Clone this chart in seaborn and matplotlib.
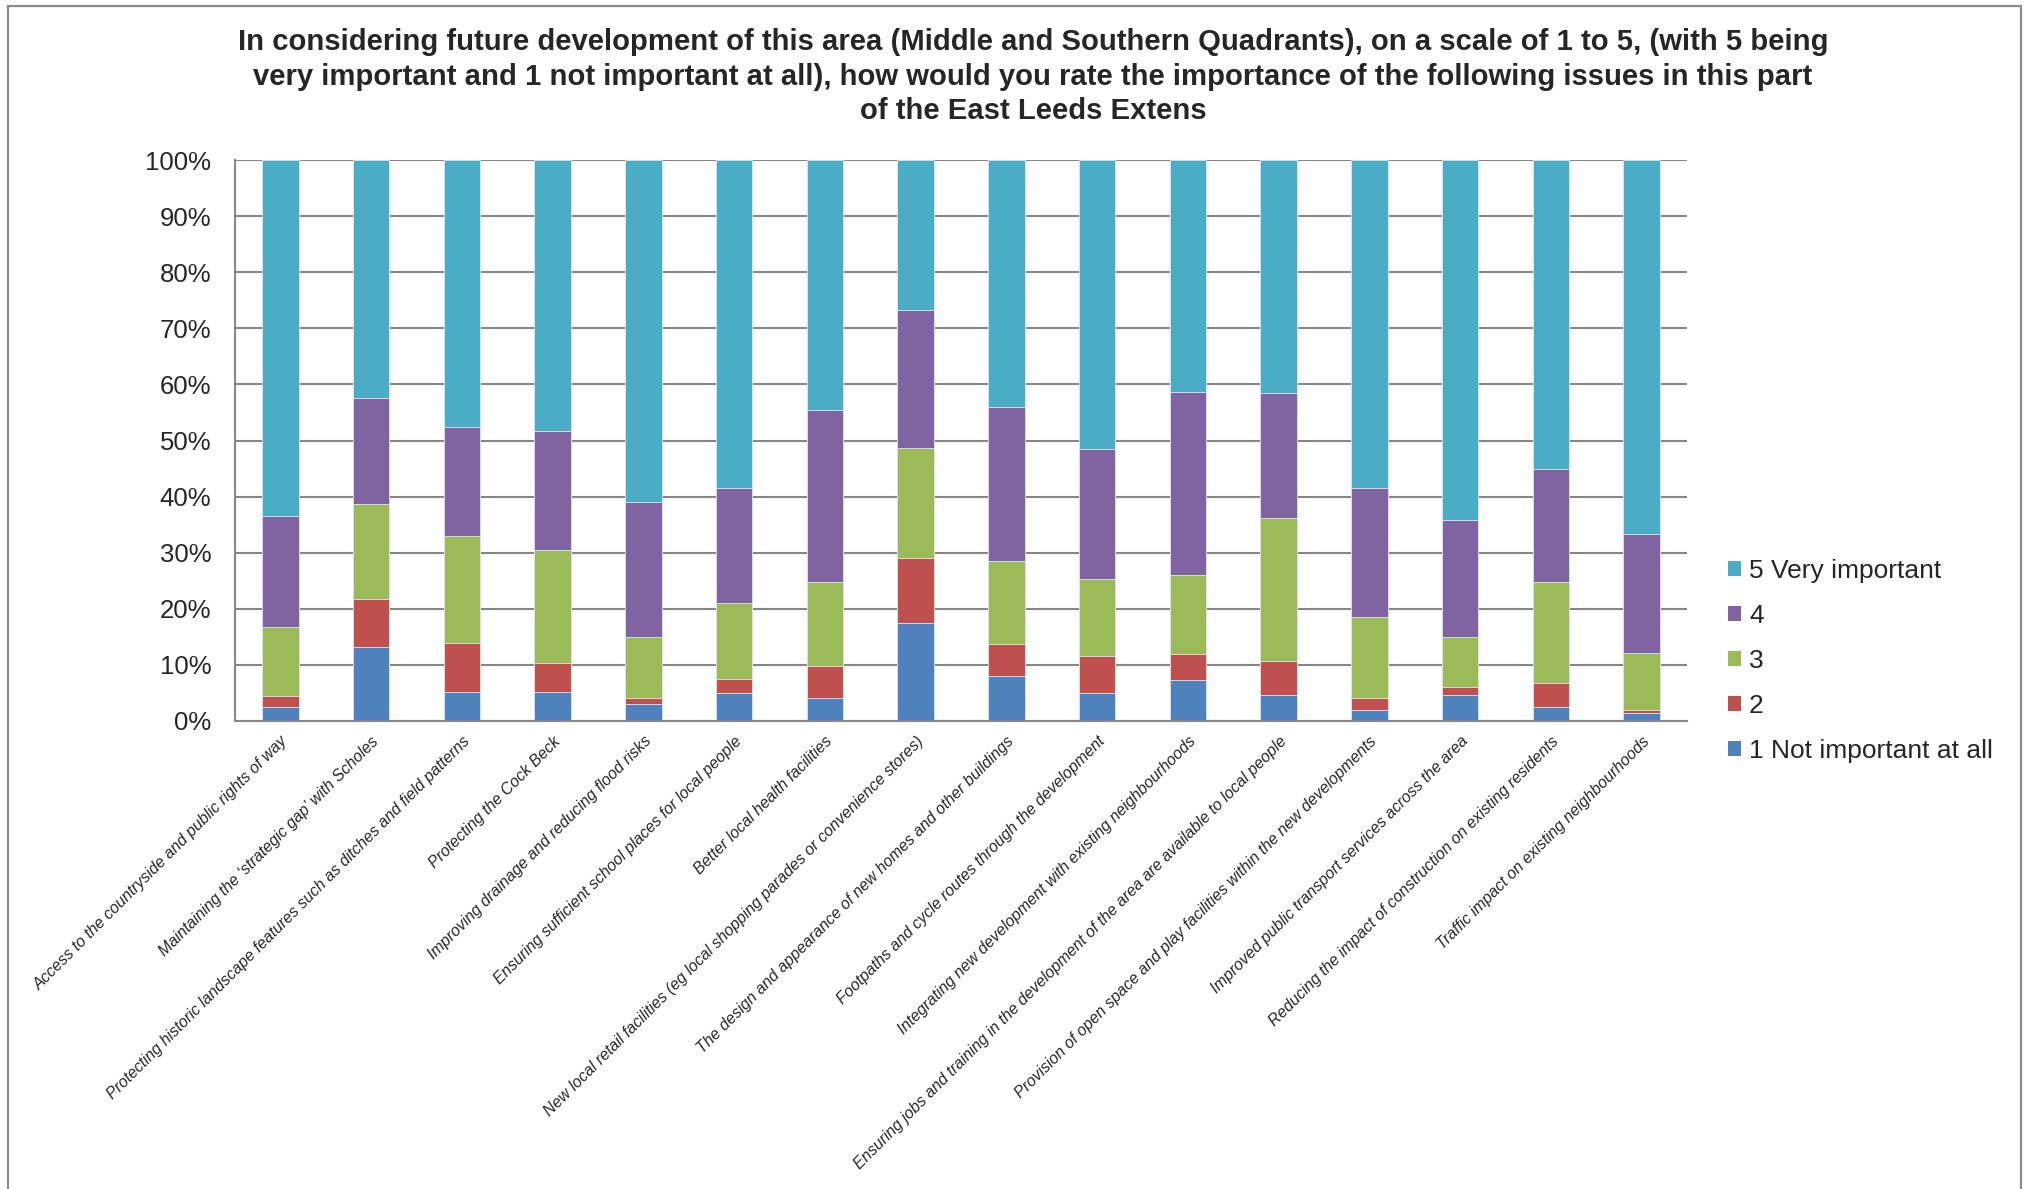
import numpy as np
import pandas as pd
import matplotlib
matplotlib.use("Agg")
import matplotlib.pyplot as plt
import seaborn as sns
from matplotlib.patches import Rectangle, Patch

# ---------------- data ----------------
categories = [
    "Access to the countryside and public rights of way",
    "Maintaining the \u2018strategic gap\u2019 with Scholes",
    "Protecting historic landscape features such as ditches and field patterns",
    "Protecting the Cock Beck",
    "Improving drainage and reducing flood risks",
    "Ensuring sufficient school places for local people",
    "Better local health facilities",
    "New local retail facilities (eg local shopping parades or convenience stores)",
    "The design and appearance of new homes and other buildings",
    "Footpaths and cycle routes through the development",
    "Integrating new development with existing neighbourhoods",
    "Ensuring jobs and training in the development of the area are available to local people",
    "Provision of open space and play facilities within the new developments",
    "Improved public transport services across the area",
    "Reducing the impact of construction on existing residents",
    "Traffic impact on existing neighbourhoods",
]

rating_1 = [2.5, 13.2, 5.1, 5.1, 3.1, 5.0, 4.1, 17.5, 8.0, 5.0, 7.3, 4.6, 2.0, 4.6, 2.5, 1.5]
rating_2 = [2.0, 8.6, 8.8, 5.2, 1.0, 2.5, 5.7, 11.6, 5.7, 6.5, 4.6, 6.1, 2.1, 1.5, 4.2, 0.5]
rating_3 = [12.3, 16.9, 19.0, 20.2, 10.8, 13.6, 14.9, 19.5, 14.8, 13.8, 14.1, 25.4, 14.4, 8.8, 18.1, 10.2]
rating_4 = [19.7, 18.8, 19.5, 21.2, 24.2, 20.5, 30.7, 24.6, 27.4, 23.1, 32.6, 22.3, 23.1, 21.0, 20.1, 21.2]
rating_5 = [63.5, 42.5, 47.6, 48.3, 60.9, 58.4, 44.6, 26.8, 44.1, 51.6, 41.4, 41.6, 58.4, 64.1, 55.1, 66.6]

series_labels = ["1 Not important at all", "2", "3", "4", "5 Very important"]
colors = ["#4F81BD", "#C0504D", "#9BBB59", "#8064A2", "#4BACC6"]
ytick_values = list(range(0, 101, 10))
ytick_labels = [f"{v}%" for v in ytick_values]

title = ("In considering future development of this area (Middle and Southern Quadrants), on a scale of 1 to 5, (with 5 being\n"
         "very important and 1 not important at all), how would you rate the importance of the following issues in this part\n"
         "of the East Leeds Extens")

# ---------------- build table ----------------
df = pd.DataFrame({
    "category": categories,
    "1": rating_1, "2": rating_2, "3": rating_3, "4": rating_4, "5": rating_5,
})
cols = ["1", "2", "3", "4", "5"]
shares = df[cols].div(df[cols].sum(axis=1), axis=0) * 100
cum = shares.cumsum(axis=1)
cum["category"] = df["category"]

# ---------------- style ----------------
sns.set_theme(style="white")
plt.rcParams['font.family'] = ['Liberation Sans', 'DejaVu Sans']

W, H = 2028, 1189
fig = plt.figure(figsize=(W / 100, H / 100), dpi=100)
fig.patch.set_facecolor("white")

left, right, top, bottom = 235, 1687, 160, 721
ax = fig.add_axes([left / W, 1 - bottom / H, (right - left) / W, (bottom - top) / H])

grid_col = "#878787"

# stacked bars: draw cumulative totals from tallest to shortest
for k in reversed(range(5)):
    sns.barplot(data=cum, x="category", y=cols[k], order=categories,
                color=colors[k], saturation=1, width=0.4, errorbar=None,
                edgecolor="#dfe8f0", linewidth=0.6, ax=ax)

ax.set_axisbelow(True)
ax.set_ylim(0, 100)
ax.set_xlim(-0.5, len(categories) - 0.5)
ax.set_yticks(ytick_values)
ax.set_yticklabels(ytick_labels, fontsize=18.5)
ax.yaxis.grid(True, color=grid_col, linewidth=1.5)
ax.xaxis.grid(False)
ax.set_xlabel("")
ax.set_ylabel("")

ax.set_xticks(range(len(categories)))
ax.set_xticklabels(categories, rotation=45, ha="right", va="top",
                   rotation_mode="anchor", fontsize=11.4, style="italic")
ax.tick_params(axis="x", which="major", length=0, pad=9)
ax.set_xticks(np.arange(-0.5, len(categories), 1), minor=True)
ax.tick_params(axis="x", which="minor", length=7, color=grid_col, width=1.5)
ax.tick_params(axis="y", length=7, color=grid_col, width=1.5, pad=10)

for s in ["top", "right"]:
    ax.spines[s].set_visible(False)
for s in ["left", "bottom"]:
    ax.spines[s].set_color(grid_col)
    ax.spines[s].set_linewidth(1.5)

# legend
handles = [Patch(facecolor=colors[k], edgecolor="none", label=series_labels[k])
           for k in reversed(range(5))]
fig.legend(handles=handles, loc="center left",
           bbox_to_anchor=(1728 / W, 1 - 661 / H), frameon=False,
           fontsize=19, handlelength=0.5, handleheight=0.5,
           handletextpad=0.3, labelspacing=0.79, borderpad=0, borderaxespad=0)

# title
fig.text(1033 / W, 1 - 28 / H, title, ha="center", va="top",
         fontsize=21.1, fontweight="bold", linespacing=1.3)

# outer frame (bottom edge lies outside the image)
fig.patches.append(Rectangle((8 / W, -0.05), (2021 - 8) / W, 1 - 6 / H + 0.05,
                             transform=fig.transFigure, fill=False,
                             edgecolor="#8c8c8c", linewidth=1.6))

fig.savefig("out.png", dpi=100, facecolor="white")
